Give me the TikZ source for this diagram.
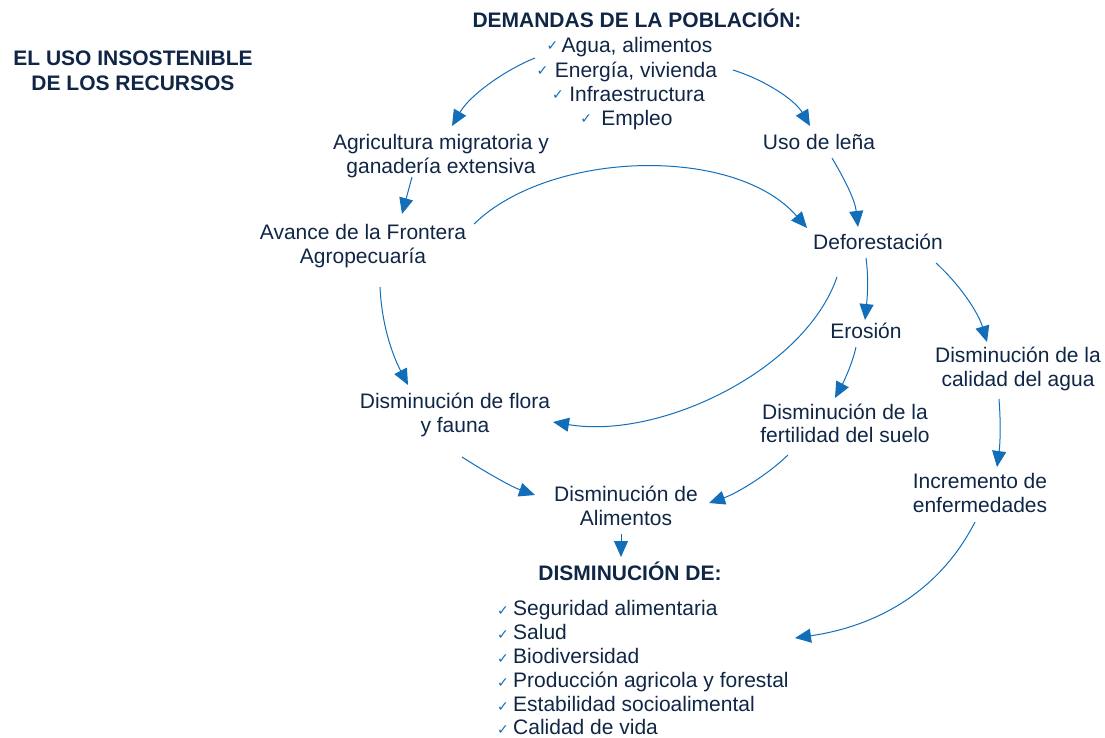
\documentclass[tikz,border=0pt]{standalone}
\usepackage{fontspec}
\setmainfont{Liberation Sans}
\newfontfamily\dejavu{DejaVu Sans}
\usetikzlibrary{arrows.meta}
\definecolor{navy}{RGB}{16,38,70}
\definecolor{arrblue}{RGB}{18,110,185}
\begin{document}
\begin{tikzpicture}[x=1pt,y=-1pt,
  txt/.style={inner sep=0pt, text height=15pt, anchor=north, align=center, text=navy, font=\fontsize{21}{24}\selectfont},
  ttl/.style={txt, font=\bfseries\fontsize{21}{25}\selectfont},
  itm/.style={txt, anchor=north west, align=left},
  chk/.style={inner sep=0pt, anchor=base east, text=arrblue, font=\dejavu\fontsize{14}{14}\selectfont},
  arr/.style={draw=arrblue, line width=1pt, -{Triangle[length=16pt,width=14pt]}}]
\useasboundingbox (0,0) rectangle (1105,737);
% texts
\node[ttl] (title) at (133,75.5) {EL USO INSOSTENIBLE\\DE LOS RECURSOS};
\node[ttl] (dem) at (637,12.5) {DEMANDAS DE LA POBLACIÓN:};
\node[txt] (d1) at (637,37.5) {Agua, alimentos};
\node[txt] (d2) at (636,62.5) {Energía, vivienda};
\node[txt] (d3) at (637,86.5) {Infraestructura};
\node[txt] (d4) at (637,110.5) {Empleo};
\node[chk] (c1) at ([shift={(-3,-2)}]d1.base west) {✓};
\node[chk] (c2) at ([shift={(-6,-2)}]d2.base west) {✓};
\node[chk] (c3) at ([shift={(-5,-2)}]d3.base west) {✓};
\node[chk] (c4) at ([shift={(-9,-2)}]d4.base west) {✓};
\node[txt] (agri) at (441,158.5) {Agricultura migratoria y\\ganadería extensiva};
\node[txt] (lena) at (819,134.5) {Uso de leña};
\node[txt] (avance) at (363,248.5) {Avance de la Frontera\\Agropecuaría};
\node[txt] (defo) at (878,234.5) {Deforestación};
\node[txt] (eros) at (866,323.5) {Erosión};
\node[txt] (calid) at (1018,371.5) {Disminución de la\\calidad del agua};
\node[txt] (flora) at (455,417.5) {Disminución de flora\\y fauna};
\node[txt, font=\fontsize{21}{23}\selectfont] (fert) at (845,427.5) {Disminución de la\\fertilidad del suelo};
\node[txt] (incr) at (980,497.5) {Incremento de\\enfermedades};
\node[txt] (alim) at (626,510.5) {Disminución de\\Alimentos};
\node[ttl] (dis) at (630,565.5) {DISMINUCIÓN DE:};
\node[itm] (l1) at (513,600.5) {Seguridad alimentaria};
\node[itm] (l2) at (513,624.5) {Salud};
\node[itm] (l3) at (513,648.5) {Biodiversidad};
\node[itm] (l4) at (513,672.5) {Producción agricola y forestal};
\node[itm] (l5) at (513,696.5) {Estabilidad socioalimental};
\node[itm] (l6) at (513,719.5) {Calidad de vida};
\foreach \i in {1,...,6} {\node[chk] (k\i) at ([xshift=-4pt]l\i.base west) {✓};}
% connectors
\draw[arr] ([shift={(-102,20.5)}]d1.north) .. controls (505,70) and (470,95) .. ([shift={(11,-32.5)}]agri.north);
\draw[arr] ([shift={(97,7.5)}]d2.north) .. controls (765,80) and (795,100) .. ([shift={(-9,-8.5)}]lena.north);
\draw[arr] ([shift={(-29,18.5)}]agri.north) -- ([shift={(39,-34.5)}]avance.north);
\draw[arr] ([shift={(111,-24.5)}]avance.north) .. controls (550,150) and (735,145) .. ([shift={(-71,-6.5)}]defo.north);
\draw[arr] ([shift={(13,23.5)}]lena.north) .. controls (845,180) and (855,200) .. ([shift={(-20,-7.5)}]defo.north);
\draw[arr] ([shift={(17,38.5)}]avance.north) .. controls (382,330) and (395,360) .. ([shift={(-47,-32.5)}]flora.north);
\draw[arr] ([shift={(-41,42.5)}]defo.north) .. controls (805,370) and (660,440) .. ([shift={(98,4.5)}]flora.north);
\draw[arr] ([shift={(-12,23.5)}]defo.north) .. controls (869,280) and (867,300) .. ([shift={(-1,-3.5)}]eros.north);
\draw[arr] ([shift={(58,28.5)}]defo.north) .. controls (960,285) and (978,312) .. ([shift={(-31,-29.5)}]calid.north);
\draw[arr] ([shift={(-10,23.5)}]eros.north) .. controls (852,365) and (843,383) .. ([shift={(-10,-29.5)}]fert.north);
\draw[arr] ([shift={(-19,27.5)}]calid.north) .. controls (1001,425) and (1000,445) .. ([shift={(17,-30.5)}]incr.north);
\draw[arr] ([shift={(7,39.5)}]flora.north) .. controls (487,473) and (512,487) .. ([shift={(-91,-15.5)}]alim.north);
\draw[arr] ([shift={(-57,27.5)}]fert.north) .. controls (765,477) and (735,494) .. ([shift={(83,-7.5)}]alim.north);
\draw[arr] ([shift={(-5,23.5)}]alim.north) -- ([shift={(-9,-8.5)}]dis.north);
\draw[arr] ([shift={(-5,24.5)}]incr.north) .. controls (935,600) and (865,628) .. ([shift={(282,13.5)}]l2.north west);
\end{tikzpicture}
\end{document}
